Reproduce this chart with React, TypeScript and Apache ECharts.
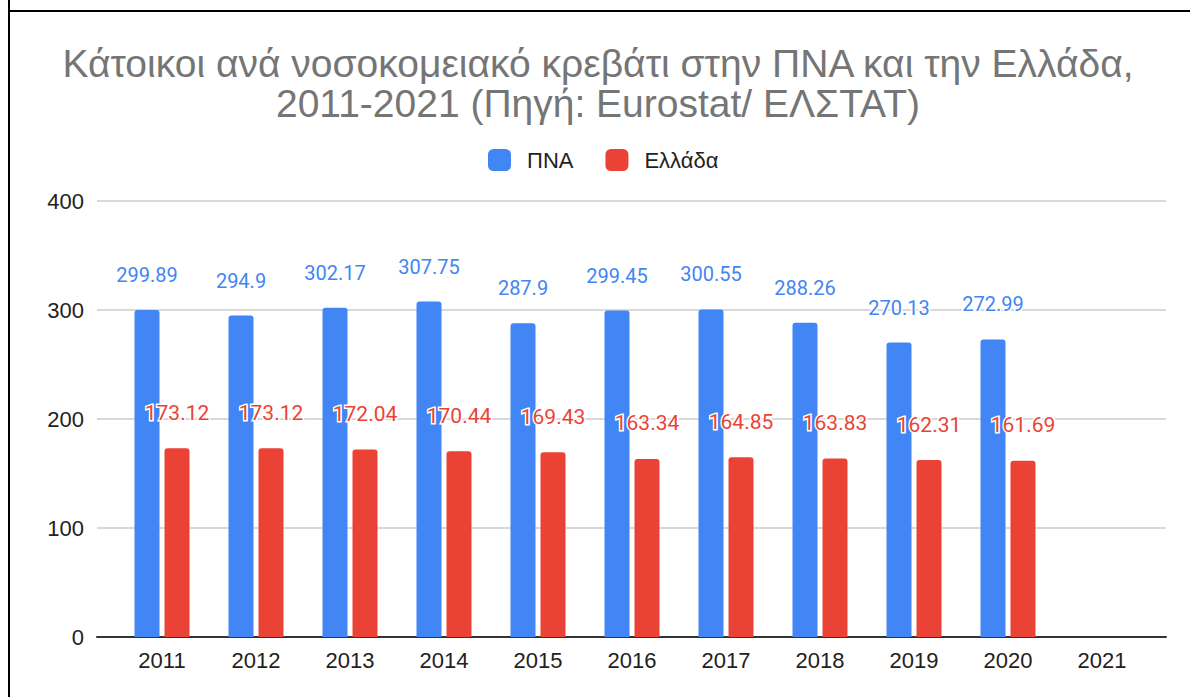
import React, { useEffect, useRef } from "react";
import * as echarts from "echarts";

const years = ["2011", "2012", "2013", "2014", "2015", "2016", "2017", "2018", "2019", "2020", "2021"];
const pnaValues: (number | null)[] = [299.89, 294.9, 302.17, 307.75, 287.9, 299.45, 300.55, 288.26, 270.13, 272.99, null];
const greeceValues: (number | null)[] = [173.12, 173.12, 172.04, 170.44, 169.43, 163.34, 164.85, 163.83, 162.31, 161.69, null];
const seriesNames = ["ΠΝΑ", "Ελλάδα"];
const titleText = "Κάτοικοι ανά νοσοκομειακό κρεβάτι στην ΠΝΑ και την Ελλάδα,\n2011-2021 (Πηγή: Eurostat/ ΕΛΣΤΑΤ)";

const BLUE = "#4285F4";
const RED = "#EA4335";

export default function App() {
  const ref = useRef<HTMLDivElement>(null);
  useEffect(() => {
    if (!ref.current) return;
    const chart = echarts.init(ref.current, null, { renderer: "svg" });
    const toData = (arr: (number | null)[]) => arr.map((v) => (v === null ? "-" : v));
    chart.setOption({
      animation: false,
      backgroundColor: "#fff",
      textStyle: { fontFamily: "Arial, 'Liberation Sans', sans-serif" },
      graphic: [
        {
          type: "line",
          shape: { x1: 9, y1: 0, x2: 9, y2: 697 },
          style: { stroke: "#000", lineWidth: 2 },
          z: 10,
        },
        {
          type: "line",
          shape: { x1: 8, y1: 11, x2: 1190, y2: 11 },
          style: { stroke: "#000", lineWidth: 2 },
          z: 10,
        },
        {
          type: "text",
          x: 598,
          y: 83,
          style: {
            text: titleText,
            fill: "#757575",
            font: "39px Arial, 'Liberation Sans', sans-serif",
            lineHeight: 40,
            textAlign: "center",
            textVerticalAlign: "middle",
          },
        },
      ],
      legend: {
        data: seriesNames,
        left: 483,
        top: 144,
        itemWidth: 23,
        itemHeight: 22,
        itemGap: 32,
        icon: "roundRect",
        textStyle: { fontSize: 22, color: "#222", padding: [0, 0, 0, 11] },
      },
      grid: [
        { left: 97, right: 24, top: 201, bottom: 60 },
        { left: 115, right: 41, top: 201, bottom: 60 },
      ],
      xAxis: [
        {
          type: "value",
          gridIndex: 0,
          min: 0,
          max: 1,
          axisLine: { show: true, onZero: false, lineStyle: { color: "#333", width: 2 } },
          axisTick: { show: false },
          axisLabel: { show: false },
          splitLine: { show: false },
        },
        {
          type: "category",
          gridIndex: 1,
          data: years,
          axisLine: { show: false },
          axisTick: { show: false },
          axisLabel: { color: "#222", fontSize: 22, margin: 12 },
        },
      ],
      yAxis: [
        {
          type: "value",
          gridIndex: 0,
          min: 0,
          max: 400,
          interval: 100,
          axisLine: { show: false },
          axisTick: { show: false },
          axisLabel: { color: "#222", fontSize: 22, margin: 13 },
          splitLine: { lineStyle: { color: "#cccccc", width: 1.5 } },
        },
        {
          type: "value",
          gridIndex: 1,
          min: 0,
          max: 400,
          interval: 100,
          show: false,
          splitLine: { show: false },
        },
      ],
      series: [
        {
          name: seriesNames[0],
          type: "bar",
          xAxisIndex: 1,
          yAxisIndex: 1,
          data: toData(pnaValues),
          barWidth: 25,
          barGap: "20%",
          itemStyle: { color: BLUE, borderRadius: [3, 3, 0, 0] },
          label: {
            show: true,
            position: "top",
            distance: 25,
            color: BLUE,
            fontSize: 20,
            fontFamily: "Roboto, sans-serif",
            textBorderColor: "#fff",
            textBorderWidth: 3,
          },
          z: 3,
        },
        {
          name: seriesNames[1],
          type: "bar",
          xAxisIndex: 1,
          yAxisIndex: 1,
          data: toData(greeceValues),
          barWidth: 25,
          barGap: "20%",
          itemStyle: { color: RED, borderRadius: [3, 3, 0, 0] },
          label: {
            show: true,
            position: "top",
            distance: 25,
            color: RED,
            fontSize: 21,
            fontFamily: "Roboto, sans-serif",
            textBorderColor: "#fff",
            textBorderWidth: 3,
          },
          z: 4,
        },
      ],
    });
    return () => chart.dispose();
  }, []);
  return (
    <div
      ref={ref}
      style={{ position: "fixed", left: 0, top: 0, width: 1190, height: 697, background: "#fff" }}
    />
  );
}
